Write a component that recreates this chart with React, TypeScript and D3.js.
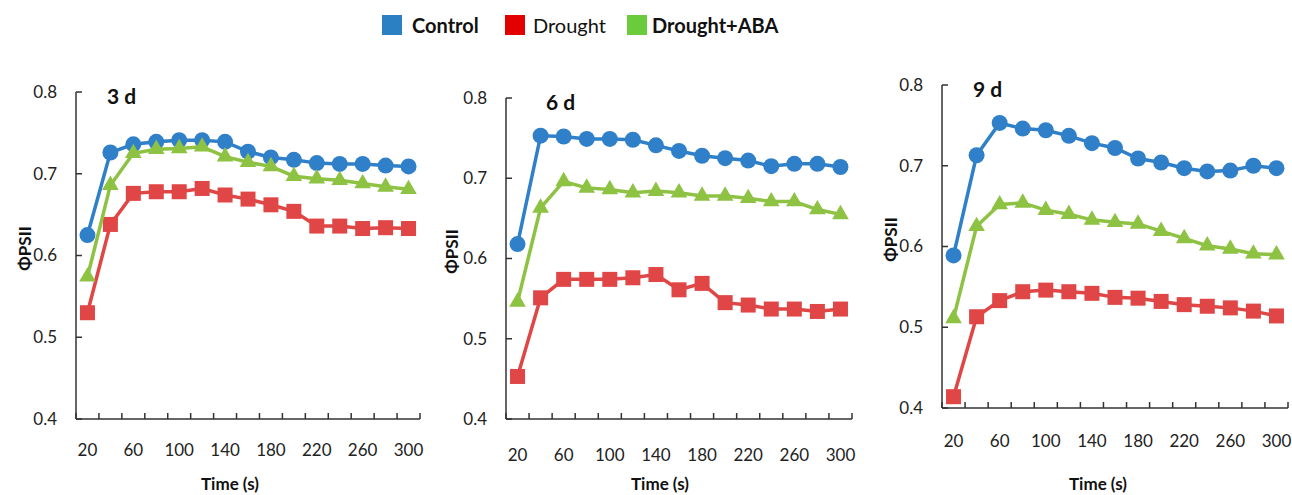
import React from "react";
import * as d3 from "d3";

// time points (s), one category each
const times = [20, 40, 60, 80, 100, 120, 140, 160, 180, 200, 220, 240, 260, 280, 300];
const yTicks = [0.4, 0.5, 0.6, 0.7, 0.8];

// 3 d
const control3 = [0.625, 0.726, 0.736, 0.739, 0.741, 0.741, 0.739, 0.727, 0.72, 0.717, 0.713, 0.712, 0.712, 0.71, 0.709];
const drought3 = [0.53, 0.638, 0.676, 0.678, 0.678, 0.682, 0.674, 0.669, 0.662, 0.654, 0.636, 0.636, 0.633, 0.634, 0.633];
const aba3 = [0.574, 0.686, 0.725, 0.73, 0.731, 0.733, 0.721, 0.714, 0.709, 0.697, 0.694, 0.692, 0.688, 0.684, 0.681];

// 6 d
const control6 = [0.618, 0.753, 0.752, 0.749, 0.749, 0.748, 0.741, 0.734, 0.728, 0.725, 0.722, 0.715, 0.718, 0.718, 0.714];
const drought6 = [0.453, 0.551, 0.574, 0.574, 0.574, 0.576, 0.58, 0.561, 0.569, 0.545, 0.542, 0.537, 0.537, 0.534, 0.537];
const aba6 = [0.546, 0.663, 0.696, 0.688, 0.686, 0.682, 0.684, 0.682, 0.678, 0.678, 0.675, 0.671, 0.671, 0.661, 0.655];

// 9 d
const control9 = [0.589, 0.713, 0.753, 0.746, 0.744, 0.737, 0.728, 0.722, 0.709, 0.704, 0.697, 0.693, 0.694, 0.7, 0.697];
const drought9 = [0.414, 0.513, 0.533, 0.544, 0.546, 0.544, 0.542, 0.537, 0.536, 0.532, 0.528, 0.526, 0.524, 0.52, 0.514];
const aba9 = [0.511, 0.625, 0.652, 0.654, 0.645, 0.64, 0.633, 0.63, 0.628, 0.619, 0.61, 0.601, 0.597, 0.591, 0.59];

const FONT = "Lato, Calibri, 'Noto Sans', sans-serif";
const LINE_BLUE = "#2f80c8";
const LINE_RED = "#e04646";
const LINE_GREEN = "#8dc243";

const legend = [
  { name: "Control", color: "#2b80c4", bold: true, x: 382, tx: 412 },
  { name: "Drought", color: "#e30000", bold: false, x: 505, tx: 533 },
  { name: "Drought+ABA", color: "#6acb3c", bold: true, x: 627, tx: 652 },
];

// panel layout
const panels = [
  { title: "3 d", control: control3, drought: drought3, aba: aba3, x0: 76, x1: 420, yTop: 92, yBot: 419, titleX: 107, tickY: 456, labelX: 230, ylabX: 31 },
  { title: "6 d", control: control6, drought: drought6, aba: aba6, x0: 506, x1: 852, yTop: 98, yBot: 419, titleX: 546, tickY: 461, labelX: 660, ylabX: 458 },
  { title: "9 d", control: control9, drought: drought9, aba: aba9, x0: 942, x1: 1288, yTop: 85, yBot: 408, titleX: 973, tickY: 447, labelX: 1098, ylabX: 897 },
];

const triangle = d3.symbol().type(d3.symbolTriangle).size(120)()!;

function Panel({ p }: { p: (typeof panels)[number] }) {
  const x = d3.scaleBand<number>().domain(times).range([p.x0, p.x1]).padding(0);
  const y = d3.scaleLinear().domain([0.4, 0.8]).range([p.yBot, p.yTop]);
  const cx = (t: number) => (x(t) as number) + x.bandwidth() / 2;
  const line = d3
    .line<number>()
    .x((_, i) => cx(times[i]))
    .y((d) => y(d));
  const fmt = d3.format(".1f");
  const boundaries = [...times.map((t) => x(t) as number), p.x1];
  const yMid = (p.yTop + p.yBot) / 2;

  return (
    <g>
      {/* axes */}
      <line x1={p.x0} x2={p.x0} y1={p.yTop} y2={p.yBot} stroke="#333" strokeWidth={1.5} />
      <line x1={p.x0} x2={p.x1} y1={p.yBot} y2={p.yBot} stroke="#333" strokeWidth={1.5} />
      {yTicks.map((v) => (
        <g key={v}>
          <line x1={p.x0} x2={p.x0 + 6} y1={y(v)} y2={y(v)} stroke="#333" strokeWidth={1.5} />
          <text x={p.x0 - 19} y={y(v)} dy="0.35em" textAnchor="end" fontSize={17} fill="#222">
            {fmt(v)}
          </text>
        </g>
      ))}
      {boundaries.map((bx, i) => (
        <line key={i} x1={bx} x2={bx} y1={p.yBot} y2={p.yBot - 6} stroke="#333" strokeWidth={1.5} />
      ))}
      {times.map((t, i) =>
        i % 2 === 0 ? (
          <text key={t} x={cx(t)} y={p.tickY} textAnchor="middle" fontSize={17} fill="#222">
            {t}
          </text>
        ) : null
      )}
      <text x={p.labelX} y={490} textAnchor="middle" fontSize={17} fontWeight="bold" fill="#111">
        Time (s)
      </text>
      <text
        transform={`translate(${p.ylabX},${yMid - 7}) rotate(-90)`}
        textAnchor="middle"
        fontSize={17}
        fontWeight="bold"
        fill="#111"
      >
        ΦPSII
      </text>
      <text x={p.titleX} y={p.yTop + 12} fontSize={21} fontWeight="bold" fill="#111">
        {p.title}
      </text>

      {/* control */}
      <path d={line(p.control)!} fill="none" stroke={LINE_BLUE} strokeWidth={3.5} />
      {p.control.map((v, i) => (
        <circle key={i} cx={cx(times[i])} cy={y(v)} r={8} fill={LINE_BLUE} />
      ))}
      {/* drought */}
      <path d={line(p.drought)!} fill="none" stroke={LINE_RED} strokeWidth={3.5} />
      {p.drought.map((v, i) => (
        <rect key={i} x={cx(times[i]) - 7.5} y={y(v) - 7.5} width={15} height={15} fill={LINE_RED} />
      ))}
      {/* drought + ABA */}
      <path d={line(p.aba)!} fill="none" stroke={LINE_GREEN} strokeWidth={3.5} />
      {p.aba.map((v, i) => (
        <path key={i} d={triangle} transform={`translate(${cx(times[i])},${y(v)})`} fill={LINE_GREEN} />
      ))}
    </g>
  );
}

export default function App() {
  return (
    <svg
      width={1292}
      height={495}
      style={{ position: "absolute", left: 0, top: 0, background: "#fff" }}
      fontFamily={FONT}
    >
      {legend.map((l) => (
        <g key={l.name}>
          <rect x={l.x} y={15} width={20} height={20} fill={l.color} />
          <text x={l.tx} y={33} fontSize={20} fontWeight={l.bold ? "bold" : "normal"} fill="#111">
            {l.name}
          </text>
        </g>
      ))}
      {panels.map((p) => (
        <Panel key={p.title} p={p} />
      ))}
    </svg>
  );
}
